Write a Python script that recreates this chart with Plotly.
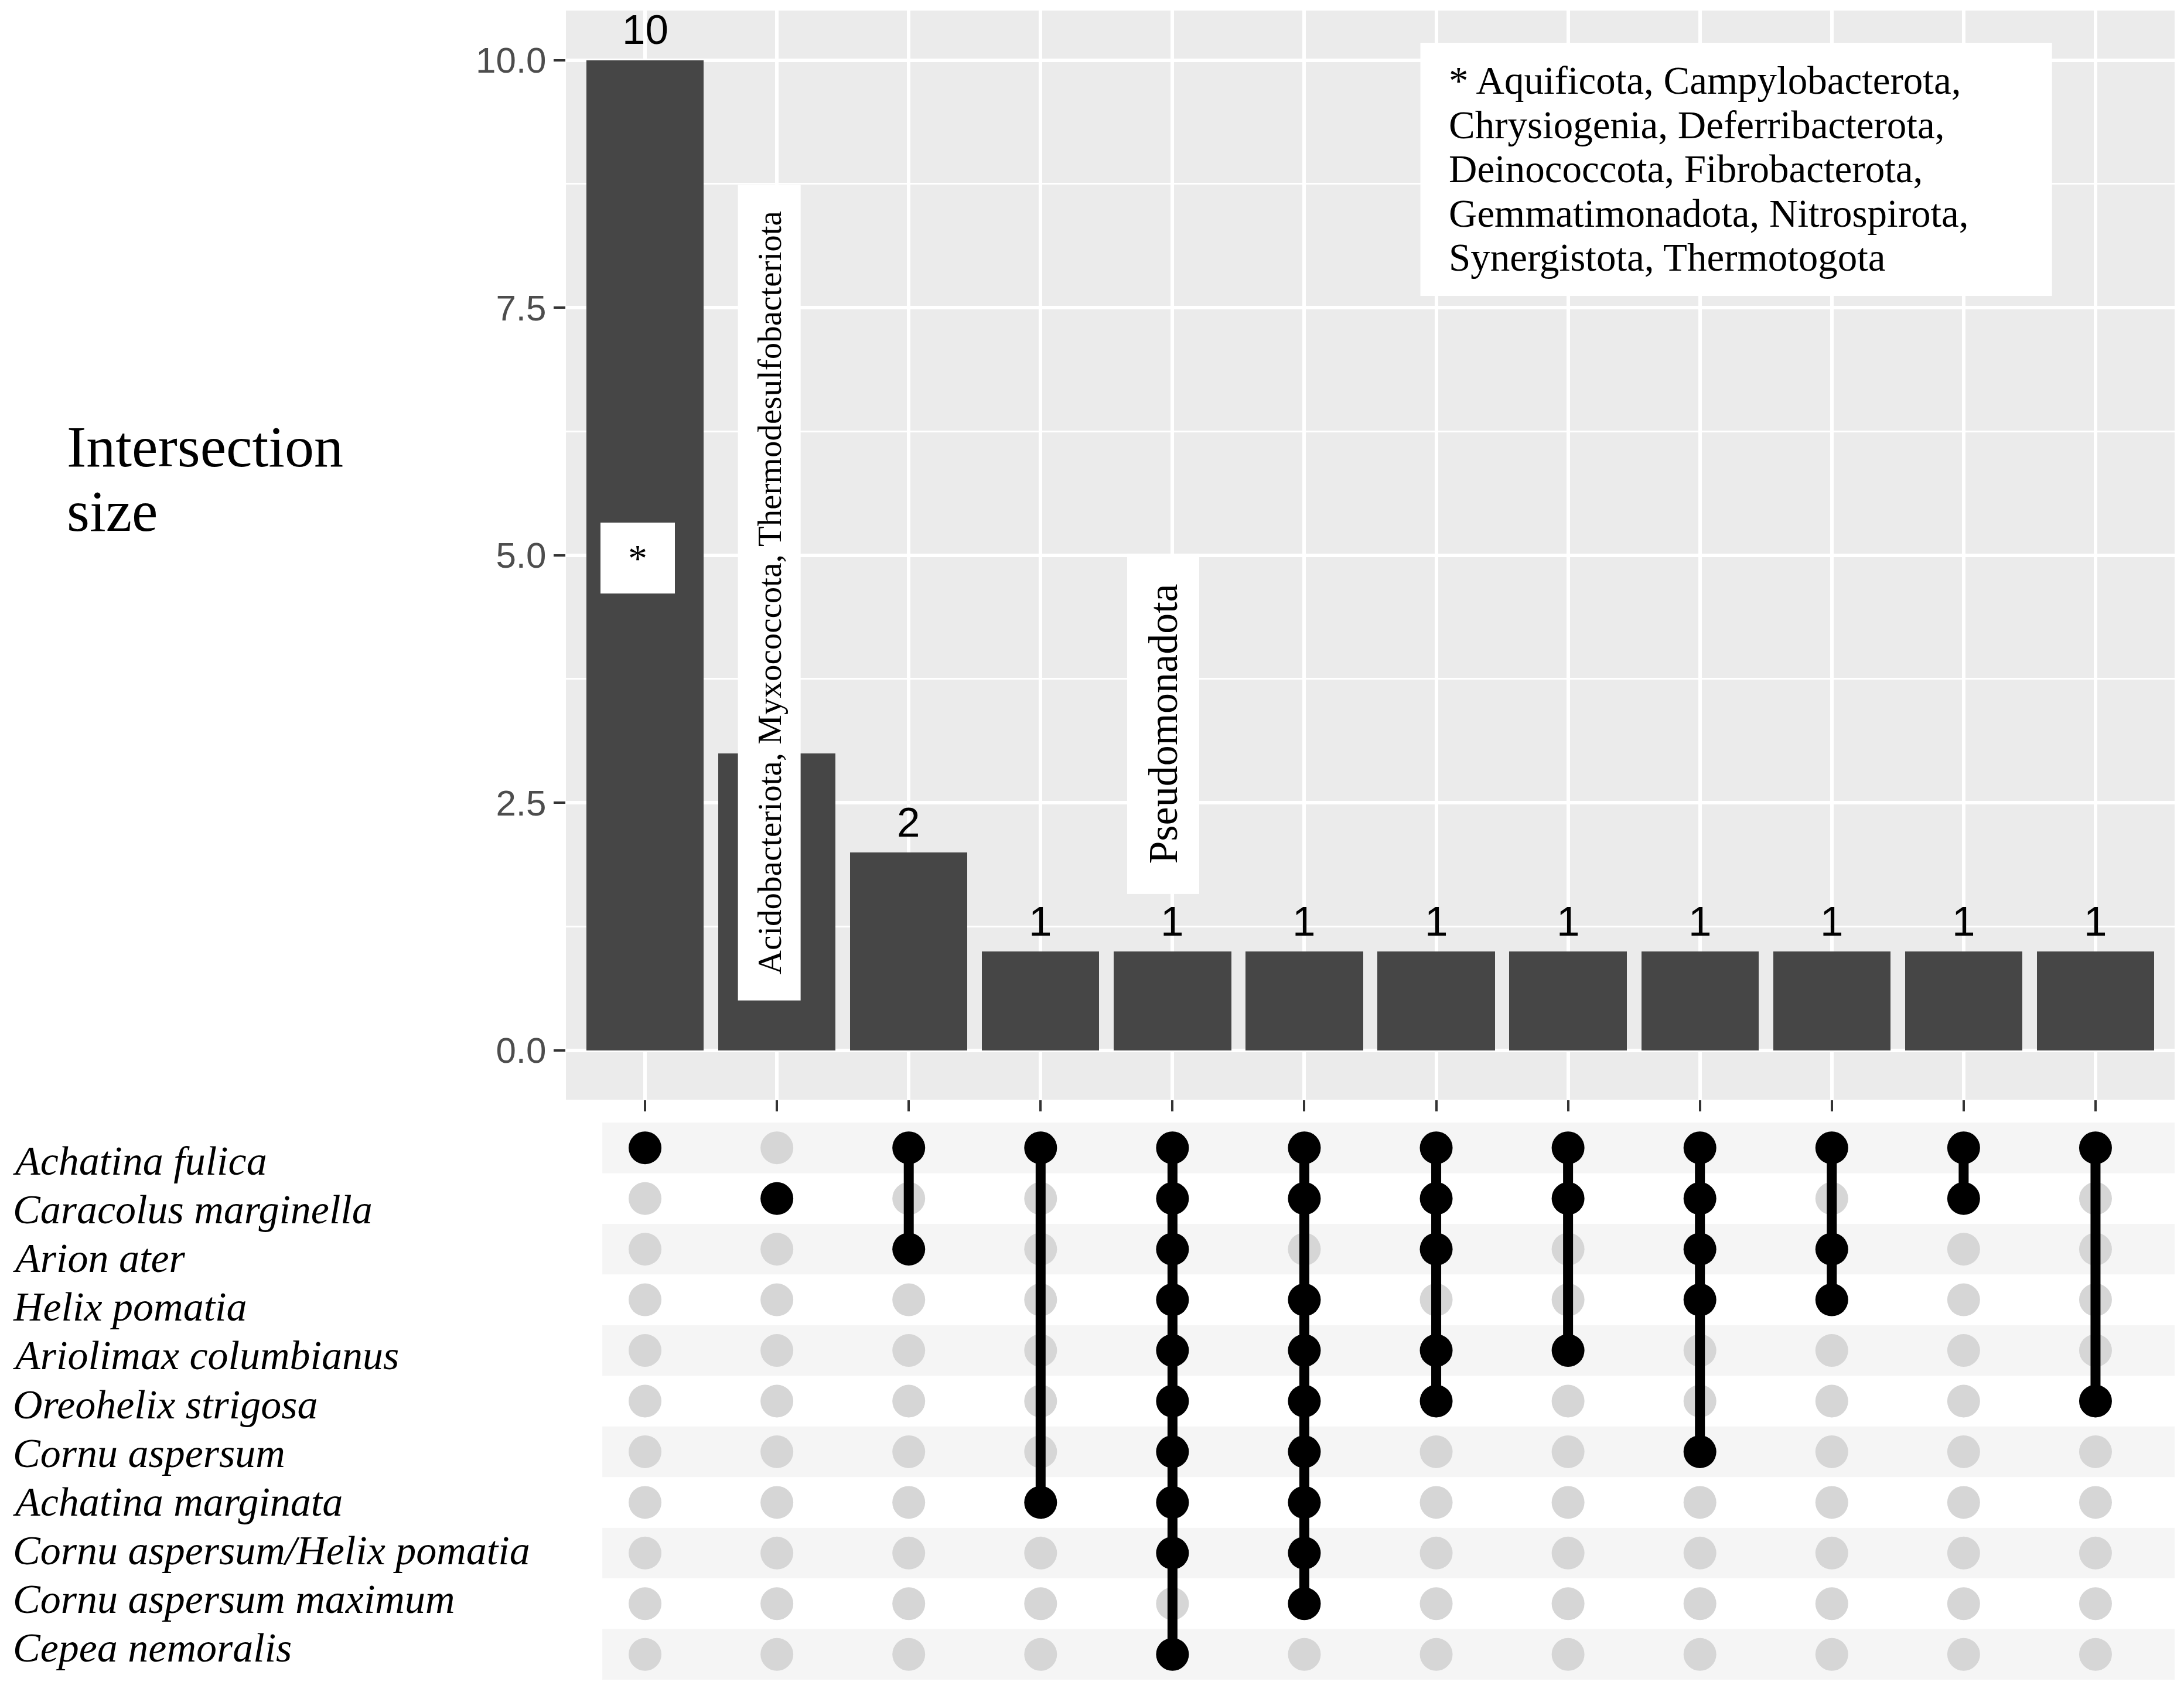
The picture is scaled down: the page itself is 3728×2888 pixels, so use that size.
import plotly.graph_objects as go

# ---------------- data ----------------
species = ["Achatina fulica", "Caracolus marginella", "Arion ater", "Helix pomatia",
           "Ariolimax columbianus", "Oreohelix strigosa", "Cornu aspersum",
           "Achatina marginata", "Cornu aspersum/Helix pomatia",
           "Cornu aspersum maximum", "Cepea nemoralis"]

intersection_sizes = [10, 3, 2, 1, 1, 1, 1, 1, 1, 1, 1, 1]

intersection_members = [
    ["Achatina fulica"],
    ["Caracolus marginella"],
    ["Achatina fulica", "Arion ater"],
    ["Achatina fulica", "Achatina marginata"],
    ["Achatina fulica", "Caracolus marginella", "Arion ater", "Helix pomatia",
     "Ariolimax columbianus", "Oreohelix strigosa", "Cornu aspersum",
     "Achatina marginata", "Cornu aspersum/Helix pomatia", "Cepea nemoralis"],
    ["Achatina fulica", "Caracolus marginella", "Helix pomatia",
     "Ariolimax columbianus", "Oreohelix strigosa", "Cornu aspersum",
     "Achatina marginata", "Cornu aspersum/Helix pomatia", "Cornu aspersum maximum"],
    ["Achatina fulica", "Caracolus marginella", "Arion ater",
     "Ariolimax columbianus", "Oreohelix strigosa"],
    ["Achatina fulica", "Caracolus marginella", "Ariolimax columbianus"],
    ["Achatina fulica", "Caracolus marginella", "Arion ater", "Helix pomatia",
     "Cornu aspersum"],
    ["Achatina fulica", "Arion ater", "Helix pomatia"],
    ["Achatina fulica", "Caracolus marginella"],
    ["Achatina fulica", "Oreohelix strigosa"],
]

y_ticks = [0, 2.5, 5.0, 7.5, 10.0]
y_title_lines = ["Intersection", "size"]

phyla_star = ["Aquificota", "Campylobacterota", "Chrysiogenia", "Deferribacterota",
              "Deinococcota", "Fibrobacterota", "Gemmatimonadota", "Nitrospirota",
              "Synergistota", "Thermotogota"]
phyla_col2 = ["Acidobacteriota", "Myxococcota", "Thermodesulfobacteriota"]
phyla_col5 = ["Pseudomonadota"]

# ---------------- style ----------------
W, H = 3728, 2888
SANS = "Liberation Sans, Arial, sans-serif"
SERIF = "Liberation Serif, Times New Roman, serif"
BAR_COLOR = "#464646"
PANEL_BG = "#EBEBEB"
STRIPE = "#F5F5F5"
DOT_OFF = "#D6D6D6"

PANEL_TOP, PANEL_BOT = 18, 1877
Y_LO, Y_HI = -0.5, 10.5


def px_x(p):
    return p / W


def px_y(p):
    return 1 - p / H


def val_y(p):
    # pixel row -> bar-panel data value
    return Y_HI - (p - PANEL_TOP) * (Y_HI - Y_LO) / (PANEL_BOT - PANEL_TOP)


n = len(intersection_sizes)
xs = list(range(1, n + 1))
rows = {s: i for i, s in enumerate(species)}

fig = go.Figure()

# bars
fig.add_trace(go.Bar(x=xs, y=intersection_sizes, width=0.89, marker_color=BAR_COLOR,
                     marker_line_width=0, xaxis="x", yaxis="y", showlegend=False,
                     hoverinfo="skip"))

# matrix
gx, gy, bx, by = [], [], [], []
lx, ly = [], []
for xi, members in zip(xs, intersection_members):
    idx = sorted(rows[m] for m in members)
    for s, r in rows.items():
        if s in members:
            bx.append(xi); by.append(r)
        else:
            gx.append(xi); gy.append(r)
    if len(idx) > 1:
        lx += [xi, xi, None]
        ly += [idx[0], idx[-1], None]

fig.add_trace(go.Scatter(x=gx, y=gy, mode="markers", xaxis="x2", yaxis="y2",
                         marker=dict(size=56, color=DOT_OFF), showlegend=False,
                         hoverinfo="skip"))
fig.add_trace(go.Scatter(x=lx, y=ly, mode="lines", xaxis="x2", yaxis="y2",
                         line=dict(width=17, color="black"), showlegend=False,
                         hoverinfo="skip"))
fig.add_trace(go.Scatter(x=bx, y=by, mode="markers", xaxis="x2", yaxis="y2",
                         marker=dict(size=56, color="black"), showlegend=False,
                         hoverinfo="skip"))

shapes = []
# bar panel background
shapes.append(dict(type="rect", xref="x domain", yref="y domain", x0=0, x1=1, y0=0, y1=1,
                   fillcolor=PANEL_BG, line=dict(width=0), layer="below"))
# matrix stripes
for i in range(0, len(species), 2):
    shapes.append(dict(type="rect", xref="x2", yref="y2", x0=0.676, x1=12.6,
                       y0=i - 0.5, y1=i + 0.5, fillcolor=STRIPE,
                       line=dict(width=0), layer="below"))
# legend box (top right)
shapes.append(dict(type="rect", xref="x", yref="y", x0=6.88, x1=11.67,
                   y0=val_y(505), y1=val_y(73),
                   fillcolor="white", line=dict(width=0), layer="above"))

annotations = []
# count labels
for xi, v in zip(xs, intersection_sizes):
    annotations.append(dict(x=xi, y=v, xref="x", yref="y", text=str(v), showarrow=False,
                            yanchor="bottom", yshift=10,
                            font=dict(family=SANS, size=71, color="black")))

# white label boxes
annotations.append(dict(x=0.944, y=val_y(952), xref="x", yref="y", text="*",
                        showarrow=False, bgcolor="white", width=127, height=121,
                        borderpad=0, borderwidth=0,
                        font=dict(family=SERIF, size=66, color="black")))
annotations.append(dict(x=1.94, y=val_y(1012), xref="x", yref="y",
                        text=", ".join(phyla_col2),
                        showarrow=False, textangle=-90, bgcolor="white", width=1392,
                        height=107, borderpad=0, borderwidth=0,
                        font=dict(family=SERIF, size=57, color="black")))
annotations.append(dict(x=4.927, y=val_y(1235), xref="x", yref="y",
                        text=", ".join(phyla_col5),
                        showarrow=False, textangle=-90, bgcolor="white", width=581,
                        height=123, borderpad=0, borderwidth=0,
                        font=dict(family=SERIF, size=70, color="black")))

# legend text, one annotation per line
pairs = [phyla_star[i:i + 2] for i in range(0, len(phyla_star), 2)]
LEG_FONT = 67
for k, p in enumerate(pairs):
    t = ", ".join(p) + ("," if k < len(pairs) - 1 else "")
    if k == 0:
        t = "* " + t
    baseline = 160 + 75.5 * k
    annotations.append(dict(x=7.085, y=val_y(baseline - 0.3375 * LEG_FONT), xref="x",
                            yref="y", text=t, showarrow=False, xanchor="left",
                            yanchor="middle",
                            font=dict(family=SERIF, size=LEG_FONT, color="black")))

# y axis title (two lines)
TITLE_FONT = 100
for line, base in zip(y_title_lines, [796, 906]):
    annotations.append(dict(x=px_x(112), y=px_y(base - 0.3375 * TITLE_FONT),
                            xref="paper", yref="paper", text=line, showarrow=False,
                            xanchor="left", yanchor="middle",
                            font=dict(family=SERIF, size=TITLE_FONT, color="black")))

# species labels
for i, s in enumerate(species):
    annotations.append(dict(x=px_x(20), y=i, xref="paper", yref="y2", text=s,
                            showarrow=False, xanchor="left", yanchor="middle",
                            yshift=-(22.0 - 3.3 * i),
                            font=dict(family=SERIF, size=70, color="black",
                                      style="italic")))

fig.update_layout(
    width=W, height=H, autosize=False,
    margin=dict(l=0, r=0, t=0, b=0, pad=0),
    paper_bgcolor="white", plot_bgcolor="rgba(0,0,0,0)",
    bargap=0, showlegend=False,
    xaxis=dict(domain=[px_x(966), px_x(3712)], range=[0.4, 12.6], tickvals=xs,
               showticklabels=False, ticks="outside", ticklen=19, tickwidth=4,
               tickcolor="#333333", showgrid=True, gridcolor="white", gridwidth=6,
               zeroline=False, showline=False, anchor="y"),
    yaxis=dict(domain=[px_y(PANEL_BOT), px_y(PANEL_TOP)], range=[Y_LO, Y_HI],
               tickvals=y_ticks, tickformat=".1f", ticks="outside", ticklen=20,
               tickwidth=4, tickcolor="#333333",
               tickfont=dict(family=SANS, size=62, color="#4D4D4D"),
               showgrid=True, gridcolor="white", gridwidth=6, zeroline=False,
               showline=False, anchor="x",
               minor=dict(dtick=1.25, tick0=0, showgrid=True, gridcolor="white",
                          gridwidth=3, ticks="")),
    xaxis2=dict(domain=[px_x(966), px_x(3712)], range=[0.4, 12.6], showgrid=False,
                zeroline=False, showticklabels=False, ticks="", showline=False,
                anchor="y2"),
    yaxis2=dict(domain=[px_y(2867), px_y(1916)], range=[10.5, -0.5], showgrid=False,
                zeroline=False, showticklabels=False, ticks="", showline=False,
                anchor="x2"),
    shapes=shapes,
    annotations=annotations,
)

fig.write_html("out.html", config={"displayModeBar": False},
               post_script="document.body.style.margin='0';"
                           "document.body.style.overflow='hidden';")
